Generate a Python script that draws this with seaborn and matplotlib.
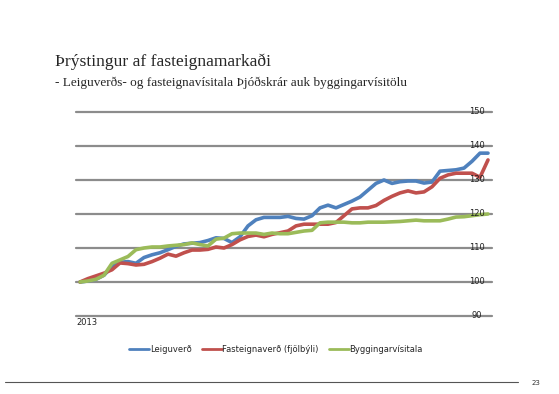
import numpy as np
import pandas as pd
import matplotlib
matplotlib.use("Agg")
import matplotlib.pyplot as plt
import seaborn as sns
from matplotlib.lines import Line2D

# Monthly index values (2013 = 100)
leiguverd = [100, 100.3, 100.8, 102, 104.5, 105.8, 106, 105.5, 107.2, 108,
             108.6, 109.5, 110.5, 111.2, 111.4, 111.6, 112.2, 113, 112.8, 111.6,
             113.3, 116.5, 118.3, 119, 119, 119, 119.3, 118.7, 118.5, 119.5,
             121.8, 122.6, 121.8, 122.8, 123.8, 125, 127, 129, 130, 129,
             129.5, 129.7, 129.7, 129.1, 129.4, 132.6, 132.8, 133, 133.5, 135.5,
             137.9, 137.9]
fasteignaverd = [100, 101, 101.8, 102.6, 103.6, 105.6, 105.4, 105, 105.2, 106,
                 107, 108.2, 107.6, 108.6, 109.4, 109.4, 109.6, 110.3, 110, 111,
                 112.4, 113.4, 113.8, 113.3, 114, 114.5, 115, 116.5, 117, 117,
                 117, 117, 117.5, 119.5, 121.5, 121.8, 121.8, 122.5, 124, 125.2,
                 126.2, 126.8, 126.2, 126.5, 128, 130.5, 131.5, 132, 132, 132,
                 130.8, 135.9]
byggingarvisitala = [100, 100.3, 100.8, 102, 105.5, 106.5, 107.5, 109.5, 110, 110.3,
                     110.3, 110.6, 110.8, 111, 111.5, 111, 110.6, 112.6, 112.9, 114.2,
                     114.4, 114.4, 114.4, 114, 114.4, 114.2, 114.2, 114.6, 115, 115.2,
                     117.4, 117.6, 117.6, 117.6, 117.4, 117.4, 117.6, 117.6, 117.6, 117.7,
                     117.8, 118, 118.2, 118, 118, 118, 118.5, 119.1, 119.2, 119.5,
                     119.8, 120]
series_names = ['Leiguverð', 'Fasteignaverð (fjölbýli)', 'Byggingarvísitala']
y_ticks = [90, 100, 110, 120, 130, 140, 150]
colors = ['#4F81BD', '#C0504D', '#9BBB59']

months = np.arange(len(leiguverd))
df = pd.DataFrame({
    'month': np.tile(months, 3),
    'value': leiguverd + fasteignaverd + byggingarvisitala,
    'series': np.repeat(series_names, len(months)),
})

sns.set_style('white')
plt.rcParams['font.family'] = ['DejaVu Sans']

W, H = 559, 394
fig = plt.figure(figsize=(W / 100, H / 100), dpi=100)
ax = fig.add_axes([76 / W, 1 - 316 / H, 416 / W, 204 / H])

# horizontal grid lines
for t in y_ticks:
    ax.axhline(t, color='#8c8c8c', lw=1.6, zorder=1, clip_on=False)

sns.lineplot(data=df, x='month', y='value', hue='series', hue_order=series_names,
             palette=colors, lw=2.6, ax=ax, legend=False, zorder=3)

ax.set_xlim(-0.5, len(months) - 0.5)
ax.set_ylim(90, 150)
ax.set_xticks([])
ax.set_yticks([])
ax.set_xlabel('')
ax.set_ylabel('')
for s in ax.spines.values():
    s.set_visible(False)

# value labels sit on the grid lines near the right edge
for t in y_ticks:
    ax.text(0.964, t, str(t), transform=ax.get_yaxis_transform(), ha='center',
            va='center', fontsize=6, color='#222222', zorder=4)

ax.text(0.0, -0.01, '2013', transform=ax.transAxes, ha='left', va='top',
        fontsize=6, color='#222222')

handles = [Line2D([0], [0], color=c, lw=2) for c in colors]
fig.legend(handles, series_names, loc='center', bbox_to_anchor=(276 / W, 1 - 349 / H),
           ncol=3, frameon=False, fontsize=6, handlelength=2.4, handletextpad=0.1,
           columnspacing=1.2)

fig.text(55 / W, 1 - 62 / H, 'Þrýstingur af fasteignamarkaði', family='Liberation Serif',
         fontsize=12.6, ha='left', va='center')
fig.text(55 / W, 1 - 83 / H,
         '- Leiguverðs- og fasteignavísitala Þjóðskrár auk byggingarvísitölu',
         family='Liberation Serif', fontsize=9.5, ha='left', va='center')

fig.add_artist(Line2D([5 / W, 518 / W], [1 - 382 / H, 1 - 382 / H], color='#555555', lw=0.8))
fig.text(536 / W, 1 - 383 / H, '23', fontsize=5, ha='center', va='center', color='#333333')

fig.savefig('out.png', dpi=100)
